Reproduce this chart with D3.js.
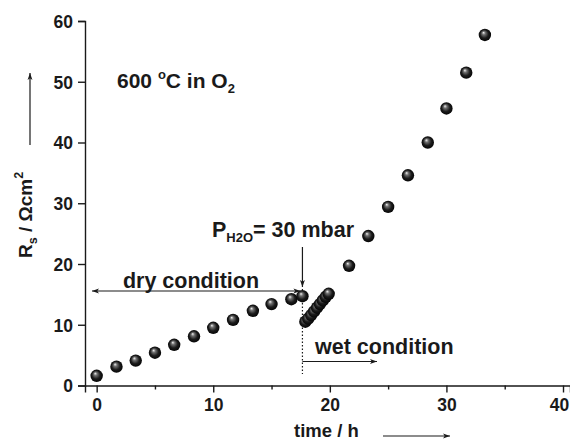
<!DOCTYPE html>
<html><head><meta charset="utf-8">
<script src="https://cdn.jsdelivr.net/npm/d3@7"></script>
<style>body{margin:0;background:#fff}svg{display:block}text{font-family:"Liberation Sans",Arial,sans-serif;font-weight:bold;fill:#1a1a1a}</style>
</head><body>
<script>
const timeH = [0,1.7,3.35,5.0,6.65,8.35,10.0,11.7,13.4,15.0,16.7,17.65,
  17.9,18.15,18.4,18.65,18.9,19.15,19.4,19.65,19.9,
  21.65,23.3,25.0,26.7,28.4,30.0,31.7,33.3];
const rs = [1.6,3.1,4.1,5.4,6.7,8.1,9.5,10.8,12.3,13.4,14.2,14.7,
  10.5,11.0,11.6,12.2,12.8,13.4,14.0,14.6,15.1,
  19.7,24.6,29.4,34.6,40.0,45.6,51.5,57.7];
const xMajor = [0,10,20,30,40];
const xMinor = [5,15,25,35];
const yMajor = [0,10,20,30,40,50,60];
const switchTime = 17.65;

const W=570,H=441;
const svg=d3.select("body").append("svg").attr("width",W).attr("height",H);
const x=d3.scaleLinear().domain([-1,40.6]).range([85,570]);
const y=d3.scaleLinear().domain([0,60]).range([385.5,21]);

const defs=svg.append("defs");
const g=defs.append("radialGradient").attr("id","ball").attr("cx","0.5").attr("cy","0.5").attr("r","0.55").attr("fx","0.38").attr("fy","0.3");
g.append("stop").attr("offset","0").attr("stop-color","#f4f4f4");
g.append("stop").attr("offset","0.25").attr("stop-color","#707070");
g.append("stop").attr("offset","0.6").attr("stop-color","#1c1c1c");
g.append("stop").attr("offset","1").attr("stop-color","#000");
const mk=defs.append("marker").attr("id","ah").attr("viewBox","0 0 10 10").attr("refX",10).attr("refY",5)
  .attr("markerWidth",10).attr("markerHeight",7).attr("markerUnits","userSpaceOnUse").attr("orient","auto-start-reverse");
mk.append("path").attr("d","M0,1.5 L10,5 L0,8.5 L2.5,5 Z").attr("fill","#1a1a1a");

// axes
const xAxis=svg.append("g").attr("transform",`translate(0,${y(0)})`)
  .call(d3.axisBottom(x).tickValues(xMajor).tickSize(7).tickPadding(3).tickFormat(d3.format("d")));
const xMin=svg.append("g").attr("transform",`translate(0,${y(0)})`)
  .call(d3.axisBottom(x).tickValues(xMinor).tickSize(4).tickFormat(""));
const yAxis=svg.append("g").attr("transform",`translate(${x(-1)},0)`)
  .call(d3.axisLeft(y).tickValues(yMajor).tickSize(7).tickPadding(5).tickFormat(d3.format("d")));
[xAxis,xMin,yAxis].forEach(a=>{
  a.select(".domain").attr("stroke","#1a1a1a").attr("stroke-width",1.4);
  a.selectAll(".tick line").attr("stroke","#1a1a1a").attr("stroke-width",1.4);
  a.selectAll("text").style("font-size","17.5px").style("font-family","'Liberation Sans',Arial,sans-serif").style("font-weight","bold").attr("fill","#1a1a1a");
});
xMin.select(".domain").remove();
xAxis.selectAll("text").attr("dy","0.9em");
xAxis.selectAll(".tick").filter(d=>d===40).select("text").attr("x",-4);
yAxis.selectAll("text").attr("dy","0.36em");

// axis titles
svg.append("text").attr("x",294).attr("y",437).style("font-size","18.5px").text("time / h");
svg.append("line").attr("x1",383).attr("x2",450).attr("y1",436).attr("y2",436).attr("stroke","#1a1a1a").attr("stroke-width",1.2).attr("marker-end","url(#ah)");
const yt=svg.append("text").attr("transform","translate(32,258) rotate(-90)").style("font-size","19px");
yt.append("tspan").text("R");
yt.append("tspan").attr("dy",5).style("font-size","12.5px").text("s");
yt.append("tspan").attr("dy",-5).text(" / Ωcm");
yt.append("tspan").attr("dy",-9).style("font-size","12.5px").text("2");
svg.append("line").attr("x1",30).attr("x2",30).attr("y1",145).attr("y2",73).attr("stroke","#1a1a1a").attr("stroke-width",1.2).attr("marker-end","url(#ah)");

// title
const tt=svg.append("text").attr("x",117).attr("y",88).style("font-size","21px");
tt.append("tspan").text("600 ");
tt.append("tspan").attr("dy",-9).style("font-size","13px").text("o");
tt.append("tspan").attr("dy",9).text("C in O");
tt.append("tspan").attr("dy",5).style("font-size","13px").text("2");

// annotations
const sx=x(switchTime);
svg.append("text").attr("x",191).attr("y",288).attr("text-anchor","middle").style("font-size","21.5px").text("dry condition");
svg.append("line").attr("x1",x(-0.4)).attr("x2",sx-2).attr("y1",291).attr("y2",291).attr("stroke","#1a1a1a").attr("stroke-width",1.2)
  .attr("marker-start","url(#ah)").attr("marker-end","url(#ah)");
const pt=svg.append("text").attr("x",212).attr("y",237).style("font-size","21.5px");
pt.append("tspan").text("P");
pt.append("tspan").attr("dy",5).style("font-size","13px").text("H2O");
pt.append("tspan").attr("dy",-5).text("= 30 mbar");
svg.append("line").attr("x1",sx).attr("x2",sx).attr("y1",247).attr("y2",287).attr("stroke","#1a1a1a").attr("stroke-width",1.2).attr("marker-end","url(#ah)");
svg.append("line").attr("x1",sx).attr("x2",sx).attr("y1",289).attr("y2",374).attr("stroke","#1a1a1a").attr("stroke-width",1.2).attr("stroke-dasharray","1.5,2");
svg.append("text").attr("x",315).attr("y",354).style("font-size","21.5px").text("wet condition");
svg.append("line").attr("x1",sx).attr("x2",377).attr("y1",361.5).attr("y2",361.5).attr("stroke","#1a1a1a").attr("stroke-width",1.2).attr("marker-end","url(#ah)");

// points
svg.append("g").selectAll("circle").data(timeH.map((t,i)=>[t,rs[i]])).join("circle")
  .attr("cx",d=>x(d[0])).attr("cy",d=>y(d[1])).attr("r",6.2).attr("fill","url(#ball)");
</script>
</body></html>
